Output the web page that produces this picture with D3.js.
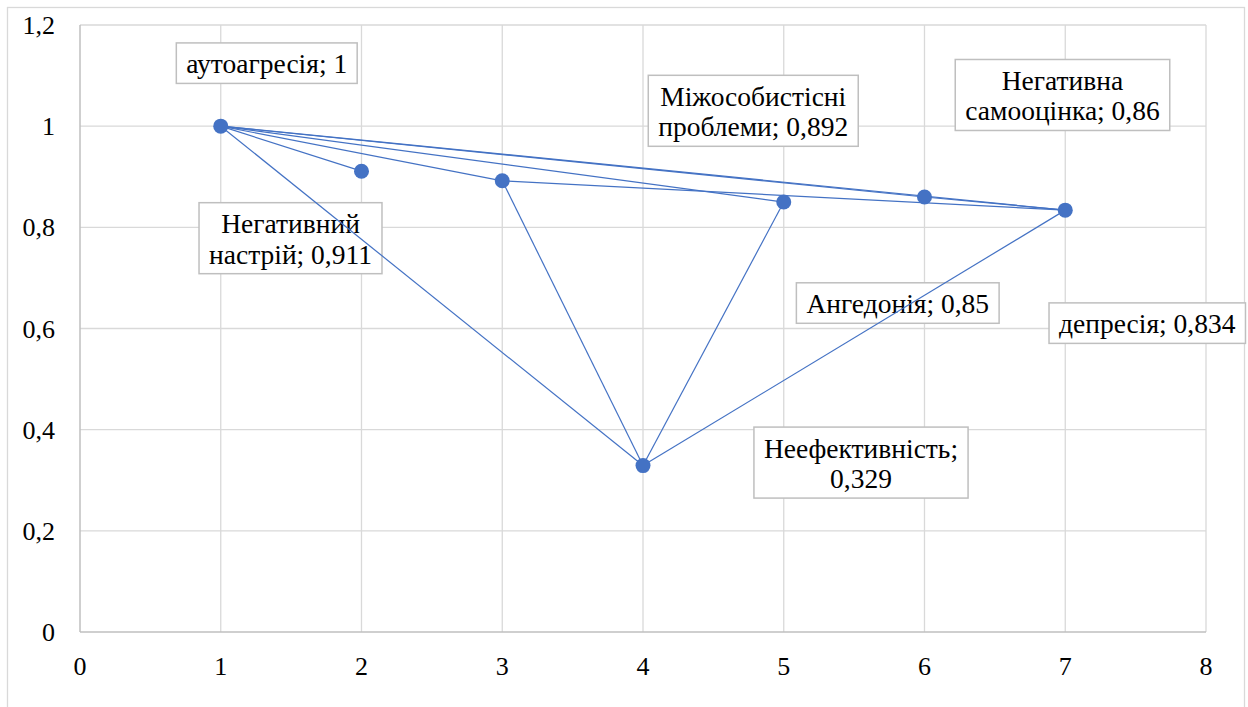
<!DOCTYPE html>
<html>
<head>
<meta charset="utf-8">
<script src="https://cdn.jsdelivr.net/npm/d3@7"></script>
<style>
  html, body { margin: 0; padding: 0; background: #fff; }
  svg { display: block; }
</style>
</head>
<body>
<svg id="chart" width="1248" height="707"></svg>
<script>
// ---- data ----
const xValues = [1, 2, 3, 4, 5, 6, 7];
const yValues = [1, 0.911, 0.892, 0.329, 0.85, 0.86, 0.834];
const names = ["аутоагресія", "Негативний настрій", "Міжособистісні проблеми", "Неефективність",
               "Ангедонія", "Негативна самооцінка", "депресія"];
// words on the first label line (0 = single line)
const firstLineWords = [0, 1, 1, 1, 0, 1, 0];
const xTicks = [0, 1, 2, 3, 4, 5, 6, 7, 8];
const yTicks = [0, 0.2, 0.4, 0.6, 0.8, 1, 1.2];
// connecting lines between points (index pairs)
const links = [[0, 6], [0, 5], [5, 6], [0, 4], [0, 2], [0, 1], [0, 3], [2, 3], [2, 6], [3, 4], [3, 6]];

// ---- layout ----
const labelOffsets = [[46, -63], [-71, 67], [251, -70], [218, -3], [114, 101], [138, -102], [82, 113]];
const plot = { left: 80, right: 1206, top: 25, bottom: 632 };
const tickFs = 26;
const labelFs = 27.5;
const FONT = "Liberation Serif";
const fmt = v => String(v).replace(".", ",");

const svg = d3.select("#chart");
svg.append("rect").attr("x", 7.5).attr("y", 7.5).attr("width", 1237).attr("height", 720)
  .attr("fill", "#fff").attr("stroke", "#d9d9d9").attr("stroke-width", 1.3);

const x = d3.scaleLinear().domain([0, 8]).range([plot.left, plot.right]);
const y = d3.scaleLinear().domain([0, 1.2]).range([plot.bottom, plot.top]);

// gridlines
svg.append("g").selectAll("line").data(yTicks.filter(d => d > 0)).join("line")
  .attr("x1", plot.left).attr("x2", plot.right)
  .attr("y1", d => y(d)).attr("y2", d => y(d))
  .attr("stroke", "#d9d9d9").attr("stroke-width", 1.3);
svg.append("g").selectAll("line").data(xTicks.filter(d => d > 0)).join("line")
  .attr("x1", d => x(d)).attr("x2", d => x(d))
  .attr("y1", plot.top).attr("y2", plot.bottom)
  .attr("stroke", "#d9d9d9").attr("stroke-width", 1.3);

// axes lines
svg.append("line").attr("x1", plot.left).attr("x2", plot.right).attr("y1", plot.bottom).attr("y2", plot.bottom)
  .attr("stroke", "#bfbfbf").attr("stroke-width", 1.5);
svg.append("line").attr("x1", plot.left).attr("x2", plot.left).attr("y1", plot.top).attr("y2", plot.bottom)
  .attr("stroke", "#bfbfbf").attr("stroke-width", 1.5);

// tick labels
svg.append("g").selectAll("text").data(yTicks).join("text")
  .attr("x", 55).attr("y", d => y(d)).attr("dy", "0.35em")
  .attr("text-anchor", "end").attr("font-family", FONT).attr("font-size", tickFs).attr("fill", "#000")
  .text(d => fmt(d));
svg.append("g").selectAll("text").data(xTicks).join("text")
  .attr("x", d => x(d)).attr("y", 666).attr("dy", "0.35em")
  .attr("text-anchor", "middle").attr("font-family", FONT).attr("font-size", tickFs).attr("fill", "#000")
  .text(d => fmt(d));

// data labels (drawn beneath the lines)
const lineH = 30.5;
xValues.forEach((xv, i) => {
  const full = `${names[i]}; ${fmt(yValues[i])}`;
  const words = full.split(" ");
  const lines = firstLineWords[i] > 0
    ? [words.slice(0, firstLineWords[i]).join(" "), words.slice(firstLineWords[i]).join(" ")]
    : [full];
  const cx = x(xv) + labelOffsets[i][0];
  const cy = y(yValues[i]) + labelOffsets[i][1];
  const g = svg.append("g");
  const rect = g.append("rect");
  const h = 10 + lineH * lines.length;
  const top = cy - h / 2;
  let maxW = 0;
  lines.forEach((t, k) => {
    const tx = g.append("text").attr("x", cx).attr("y", top + 30.5 + k * lineH)
      .attr("text-anchor", "middle").attr("font-family", FONT).attr("font-size", labelFs).attr("fill", "#000")
      .text(t);
    maxW = Math.max(maxW, tx.node().getComputedTextLength());
  });
  const w = maxW + 20;
  rect.attr("x", cx - w / 2).attr("y", top).attr("width", w).attr("height", h)
    .attr("fill", "#fff").attr("stroke", "#bfbfbf").attr("stroke-width", 1.5);
});

// connecting lines
svg.append("g").selectAll("line").data(links).join("line")
  .attr("x1", d => x(xValues[d[0]])).attr("y1", d => y(yValues[d[0]]))
  .attr("x2", d => x(xValues[d[1]])).attr("y2", d => y(yValues[d[1]]))
  .attr("stroke", "#4472C4").attr("stroke-width", 1.2);

// markers
svg.append("g").selectAll("circle").data(xValues).join("circle")
  .attr("cx", d => x(d)).attr("cy", (d, i) => y(yValues[i])).attr("r", 7.5)
  .attr("fill", "#4472C4");
</script>
</body>
</html>
